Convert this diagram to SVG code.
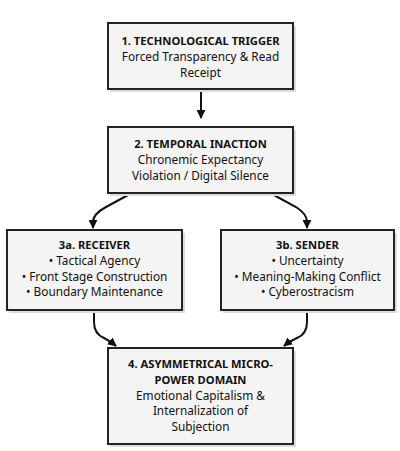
<svg xmlns="http://www.w3.org/2000/svg" width="400" height="451" viewBox="0 0 400 451">
<defs>
<style>
.box{fill:#f4f4f4;stroke:#222;stroke-width:2}
.sh{fill:#dcdcdc}
.t{font-family:"Noto Sans","Open Sans",sans-serif;font-size:11.8px;fill:#111;text-anchor:middle}
.b{font-weight:bold;font-size:11.2px}
.c{fill:none;stroke:#111;stroke-width:2}
</style>
<marker id="ah" viewBox="0 0 10 10" refX="9" refY="5" markerWidth="9" markerHeight="9" orient="auto" markerUnits="userSpaceOnUse">
<path d="M0,0 L10,5 L0,10 z" fill="#111"/>
</marker>
</defs>
<rect width="400" height="451" fill="#fff"/>
<g id="connectors">
<path class="c" d="M201,90 L201,118" marker-end="url(#ah)"/>
<path class="c" d="M130,194 L106,207 Q93,214 93,222 L93,228" marker-end="url(#ah)"/>
<path class="c" d="M272,194 L296,207 Q307,214 307,222 L307,228" marker-end="url(#ah)"/>
<path class="c" d="M94,311 L94,322 Q94,334 104,338 Q110,341 116,346" marker-end="url(#ah)"/>
<path class="c" d="M307,311 L307,322 Q307,334 297,338 Q290,341 284,346" marker-end="url(#ah)"/>
</g>
<g id="n1">
<rect class="sh" x="110" y="26" width="186" height="66"/>
<rect class="box" x="108" y="23" width="185" height="66"/>
<text class="t b" x="200.5" y="45">1. TECHNOLOGICAL TRIGGER</text>
<text class="t" x="200.5" y="61">Forced Transparency &amp; Read</text>
<text class="t" x="200.5" y="77">Receipt</text>
</g>
<g id="n2">
<rect class="sh" x="110" y="130" width="186" height="66"/>
<rect class="box" x="108" y="127" width="185" height="66"/>
<text class="t b" x="200.5" y="148">2. TEMPORAL INACTION</text>
<text class="t" x="200.5" y="164">Chronemic Expectancy</text>
<text class="t" x="200.5" y="180">Violation / Digital Silence</text>
</g>
<g id="n3a">
<rect class="sh" x="9" y="233" width="176" height="80"/>
<rect class="box" x="7" y="230" width="175" height="80"/>
<text class="t b" x="94.5" y="249">3a. RECEIVER</text>
<text class="t" x="94.5" y="265">• Tactical Agency</text>
<text class="t" x="94.5" y="281">• Front Stage Construction</text>
<text class="t" x="94.5" y="296">• Boundary Maintenance</text>
</g>
<g id="n3b">
<rect class="sh" x="223" y="233" width="174" height="80"/>
<rect class="box" x="221" y="230" width="173" height="80"/>
<text class="t b" x="307.5" y="249">3b. SENDER</text>
<text class="t" x="307.5" y="265">• Uncertainty</text>
<text class="t" x="307.5" y="281">• Meaning-Making Conflict</text>
<text class="t" x="307.5" y="296">• Cyberostracism</text>
</g>
<g id="n4">
<rect class="sh" x="110" y="351" width="186" height="96"/>
<rect class="box" x="108" y="348" width="185" height="96"/>
<text class="t b" x="200.5" y="368">4. ASYMMETRICAL MICRO-</text>
<text class="t b" x="200.5" y="384">POWER DOMAIN</text>
<text class="t" x="200.5" y="400">Emotional Capitalism &amp;</text>
<text class="t" x="200.5" y="415">Internalization of</text>
<text class="t" x="200.5" y="431">Subjection</text>
</g>
</svg>
